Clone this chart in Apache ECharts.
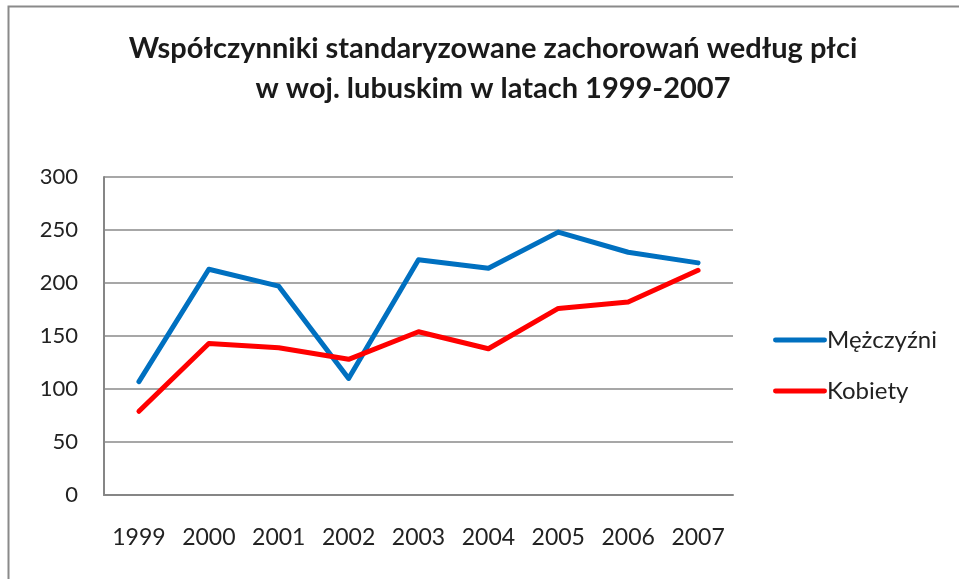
<!DOCTYPE html>
<html><head><meta charset="utf-8">
<script src="https://cdn.jsdelivr.net/npm/echarts@6/dist/echarts.min.js"></script>
<style>html,body{margin:0;padding:0;background:#fff}#c{width:959px;height:579px}</style>
</head><body><div id="c"></div>
<script>
const titleText = 'Współczynniki standaryzowane zachorowań według płci\nw woj. lubuskim w latach 1999-2007';
const years = ['1999','2000','2001','2002','2003','2004','2005','2006','2007'];
const menName = 'Mężczyźni';
const womenName = 'Kobiety';
const men = [107, 213, 197, 110, 222, 214, 248, 229, 219];
const women = [79, 143, 139, 128, 154, 138, 176, 182, 212];
const yMin = 0, yMax = 300, yStep = 50;

const chart = echarts.init(document.getElementById('c'), null, {renderer: 'canvas'});
const font = 'Lato, "Open Sans", sans-serif';
chart.setOption({
  animation: false,
  backgroundColor: '#fff',
  graphic: [{type: 'polyline', shape: {points: [[8.5, 590], [8.5, 6.5], [970, 6.5]]}, style: {stroke: '#8a8a8a', lineWidth: 2, fill: null}, silent: true}],
  title: {
    text: titleText, left: 488, top: 24, textAlign: 'center',
    textStyle: {fontFamily: font, fontWeight: 'bold', fontSize: 29, color: '#1a1a1a', lineHeight: 40}
  },
  legend: {
    orient: 'vertical', left: 773, top: 328, padding: 0, itemWidth: 54, itemHeight: 10, itemGap: 27,
    icon: 'path://M2,3.5 L52,3.5 A2.5,2.5 0 0 1 52,8.5 L2,8.5 A2.5,2.5 0 0 1 2,3.5 Z',
    textStyle: {fontFamily: font, fontSize: 24, color: '#222', padding: [0,0,0,-5]},
    data: [{name: menName, itemStyle: {color: '#0070c0'}}, {name: womenName, itemStyle: {color: '#ff0000'}}]
  },
  grid: {left: 104, right: 226, top: 177, bottom: 84, containLabel: false},
  xAxis: {
    type: 'category', data: years, boundaryGap: true,
    axisLine: {lineStyle: {color: '#868686', width: 2}},
    axisTick: {show: false},
    axisLabel: {fontFamily: font, fontSize: 23, color: '#222', margin: 31}
  },
  yAxis: {
    type: 'value', min: yMin, max: yMax, interval: yStep,
    axisLine: {show: true, lineStyle: {color: '#868686', width: 2}},
    axisTick: {show: false},
    splitLine: {lineStyle: {color: '#8a8a8a', width: 1.5}},
    axisLabel: {fontFamily: font, fontSize: 22, color: '#222', margin: 26}
  },
  series: [
    {name: menName, type: 'line', data: men, symbol: 'none', lineStyle: {color: '#0070c0', width: 5, cap: 'round', join: 'round'}, itemStyle: {color: '#0070c0'}},
    {name: womenName, type: 'line', data: women, symbol: 'none', lineStyle: {color: '#ff0000', width: 5, cap: 'round', join: 'round'}, itemStyle: {color: '#ff0000'}}
  ]
});
</script></body></html>
